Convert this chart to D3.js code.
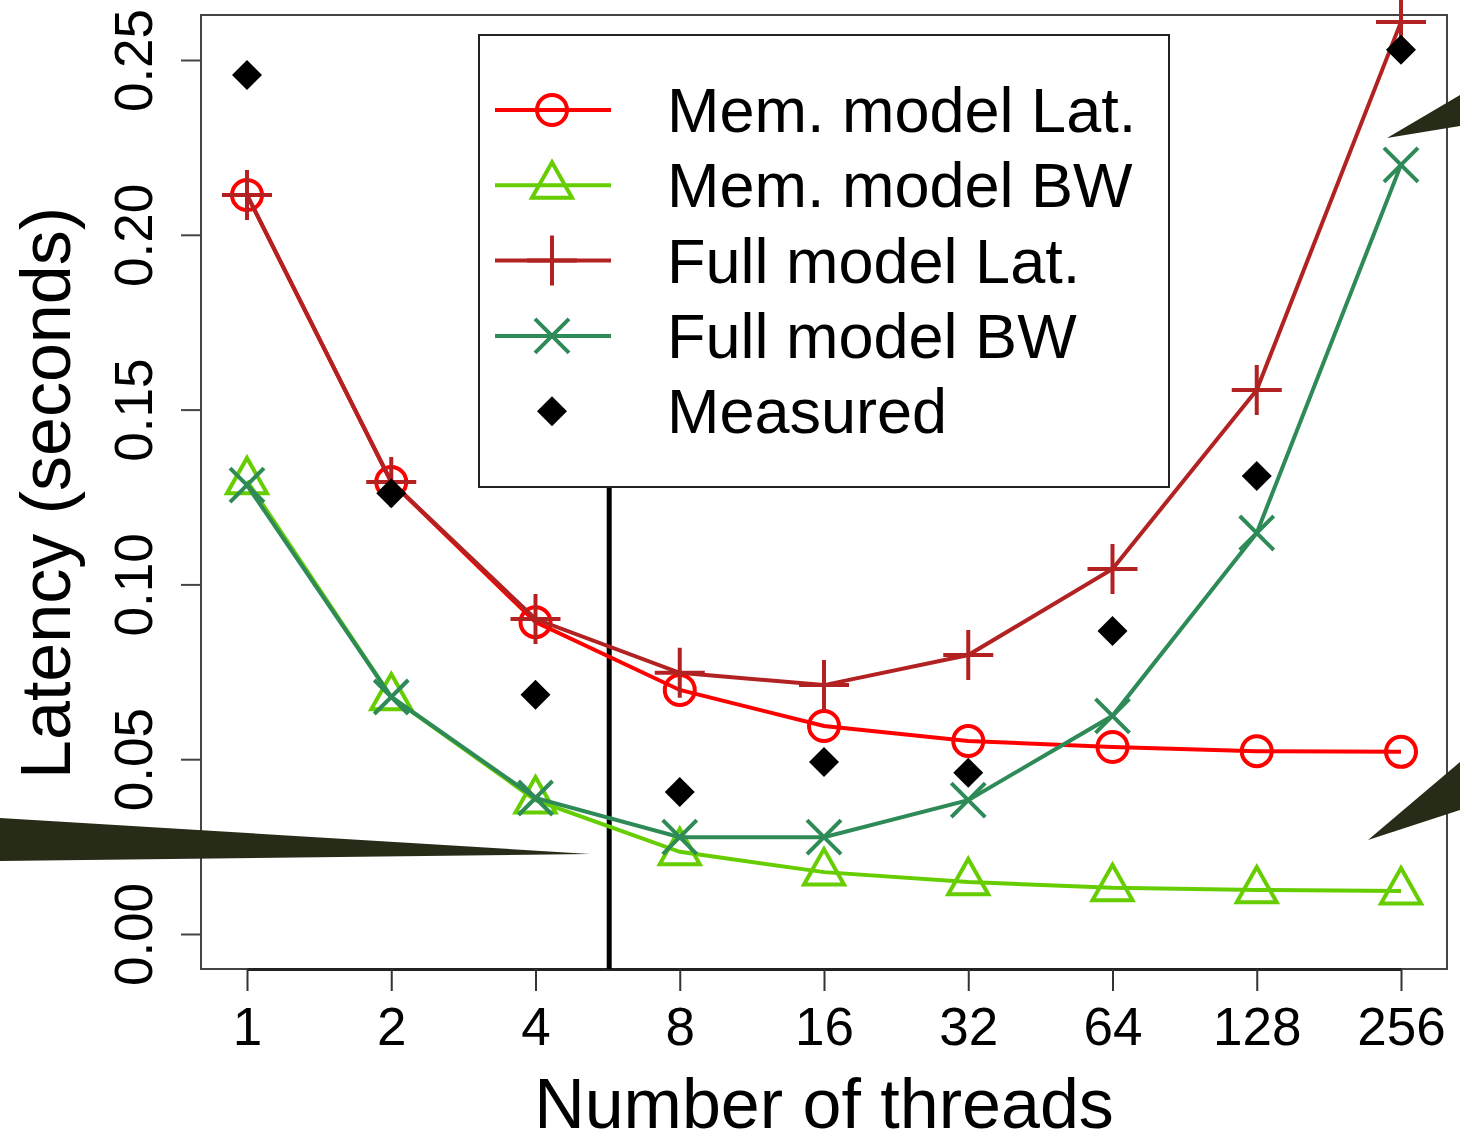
<!DOCTYPE html>
<html>
<head>
<meta charset="utf-8">
<script src="https://cdn.jsdelivr.net/npm/d3@7"></script>
<style>
  body { margin: 0; background: #fff; }
  svg { display: block; font-family: "Liberation Sans", Arial, sans-serif; }
</style>
</head>
<body>
<svg id="chart" width="1460" height="1138"></svg>
<script>
// thread counts on the x axis (log2)
var threads = [1, 2, 4, 8, 16, 32, 64, 128, 256];
var yTicks = [0, 0.05, 0.10, 0.15, 0.20, 0.25];

// latency values (seconds)
var memLat   = [0.2114, 0.1293, 0.0892, 0.0698, 0.0595, 0.0552, 0.0535, 0.0523, 0.0521];
var memBW    = [0.1296, 0.0678, 0.0383, 0.0235, 0.0177, 0.0149, 0.0132, 0.0126, 0.0123];
var fullLat  = [0.2114, 0.1293, 0.0901, 0.0747, 0.0712, 0.0798, 0.1044, 0.1556, 0.2609];
var fullBW   = [0.1284, 0.0678, 0.0389, 0.0277, 0.0277, 0.0383, 0.0624, 0.1147, 0.2200];
var measured = [0.2457, 0.1261, 0.0684, 0.0406, 0.0492, 0.0461, 0.0867, 0.1310, 0.2529];

var seriesNames = ['Mem. model Lat.', 'Mem. model BW', 'Full model Lat.', 'Full model BW', 'Measured'];
var cutoffThreads = 5.7;

var svg = d3.select('#chart');

var x = d3.scaleLog().base(2).domain([1, 256]).range([247, 1401]);
var y = d3.scaleLinear().domain([0, 0.25]).range([934, 60]);

var frame = {left: 201, top: 15, right: 1447, bottom: 969};

var series = [
    {name: seriesNames[0], values: memLat,  color: '#ff0000', shape: 'circle'},
    {name: seriesNames[1], values: memBW,   color: '#66cd00', shape: 'triangle'},
    {name: seriesNames[2], values: fullLat, color: '#b22222', shape: 'plus'},
    {name: seriesNames[3], values: fullBW,  color: '#2e8b57', shape: 'cross'}
];

function drawMarker(g, shape, color, cx, cy) {
    if (shape == 'circle') {
        g.append('circle').attr('cx', cx).attr('cy', cy).attr('r', 15)
            .attr('fill', 'none').attr('stroke', color).attr('stroke-width', 4);
    } else if (shape == 'triangle') {
        var s = 20;
        g.append('path')
            .attr('d', 'M' + cx + ',' + (cy - s * 1.15) + 'L' + (cx + s) + ',' + (cy + s * 0.62) + 'L' + (cx - s) + ',' + (cy + s * 0.62) + 'Z')
            .attr('fill', 'none').attr('stroke', color).attr('stroke-width', 4);
    } else if (shape == 'plus') {
        var p = 25;
        g.append('path')
            .attr('d', 'M' + (cx - p) + ',' + cy + 'H' + (cx + p) + 'M' + cx + ',' + (cy - p) + 'V' + (cy + p))
            .attr('stroke', color).attr('stroke-width', 4);
    } else if (shape == 'cross') {
        var c = 17;
        g.append('path')
            .attr('d', 'M' + (cx - c) + ',' + (cy - c) + 'L' + (cx + c) + ',' + (cy + c) + 'M' + (cx - c) + ',' + (cy + c) + 'L' + (cx + c) + ',' + (cy - c))
            .attr('stroke', color).attr('stroke-width', 4);
    } else if (shape == 'diamond') {
        var d = 15;
        g.append('path')
            .attr('d', 'M' + cx + ',' + (cy - d) + 'L' + (cx + d) + ',' + cy + 'L' + cx + ',' + (cy + d) + 'L' + (cx - d) + ',' + cy + 'Z')
            .attr('fill', '#000');
    }
}

// frame (R style box)
svg.append('rect')
    .attr('x', frame.left).attr('y', frame.top)
    .attr('width', frame.right - frame.left).attr('height', frame.bottom - frame.top)
    .attr('fill', 'none').attr('stroke', '#444').attr('stroke-width', 2);

// x axis
var xAxis = d3.axisBottom(x).tickValues(threads).tickFormat(d3.format('d')).tickSize(22).tickSizeOuter(0);
var gx = svg.append('g').attr('transform', 'translate(0,' + frame.bottom + ')').call(xAxis);
gx.select('.domain').attr('stroke', '#222').attr('stroke-width', 3);
gx.selectAll('.tick line').attr('stroke', '#333').attr('stroke-width', 2);
gx.selectAll('.tick text').attr('font-size', 53).attr('fill', '#000').attr('dy', 0).attr('y', 1045 - frame.bottom)
    .attr('font-family', '"Liberation Sans", Arial, sans-serif');

// y axis
var yAxis = d3.axisLeft(y).tickValues(yTicks).tickFormat(d3.format('.2f')).tickSize(20).tickSizeOuter(0);
var gy = svg.append('g').attr('transform', 'translate(' + frame.left + ',0)').call(yAxis);
gy.select('.domain').remove();
gy.selectAll('.tick line').attr('stroke', '#444').attr('stroke-width', 2);
gy.selectAll('.tick text')
    .attr('font-size', 53).attr('fill', '#000')
    .attr('font-family', '"Liberation Sans", Arial, sans-serif')
    .attr('x', null).attr('dy', null)
    .attr('text-anchor', 'middle')
    .attr('transform', 'translate(-49,0) rotate(-90)');

// axis titles
svg.append('text').attr('x', 824).attr('y', 1128).attr('text-anchor', 'middle')
    .attr('font-size', 70).text('Number of threads');
svg.append('text').attr('transform', 'translate(70,493) rotate(-90)').attr('text-anchor', 'middle')
    .attr('font-size', 70).text('Latency (seconds)');

// vertical cut-off line
svg.append('line').attr('x1', x(cutoffThreads)).attr('x2', x(cutoffThreads))
    .attr('y1', 487).attr('y2', frame.bottom)
    .attr('stroke', '#000').attr('stroke-width', 5);

// series lines + markers
var line = d3.line().x(function(d, i) { return x(threads[i]); }).y(function(d) { return y(d); });
series.forEach(function(s) {
    var g = svg.append('g');
    g.append('path').datum(s.values).attr('d', line)
        .attr('fill', 'none').attr('stroke', s.color).attr('stroke-width', 4);
    s.values.forEach(function(v, i) {
        drawMarker(g, s.shape, s.color, x(threads[i]), y(v));
    });
});
var gm = svg.append('g');
measured.forEach(function(v, i) { drawMarker(gm, 'diamond', '#000', x(threads[i]), y(v)); });

// legend
var legend = svg.append('g');
legend.append('rect').attr('x', 479).attr('y', 35).attr('width', 690).attr('height', 452)
    .attr('fill', '#fff').attr('stroke', '#222').attr('stroke-width', 2);
var legendItems = series.concat([{name: seriesNames[4], color: '#000', shape: 'diamond'}]);
legendItems.forEach(function(s, i) {
    var ly = 110 + i * 75.3;
    if (s.shape != 'diamond') {
        legend.append('line').attr('x1', 495).attr('x2', 611).attr('y1', ly).attr('y2', ly)
            .attr('stroke', s.color).attr('stroke-width', 4);
    }
    drawMarker(legend, s.shape, s.color, 552, ly);
    legend.append('text').attr('x', 667).attr('y', ly + 22).attr('font-size', 63).text(s.name);
});

// dark callout pointers (cropped from the slide)
var callouts = [
    [[0, 818], [590, 854], [0, 861]],
    [[1460, 95], [1387, 138], [1460, 126]],
    [[1460, 762], [1368, 840], [1460, 810]]
];
svg.append('g').selectAll('path').data(callouts).enter().append('path')
    .attr('d', function(d) { return 'M' + d.join('L') + 'Z'; })
    .attr('fill', '#262c18');
</script>
</body>
</html>
